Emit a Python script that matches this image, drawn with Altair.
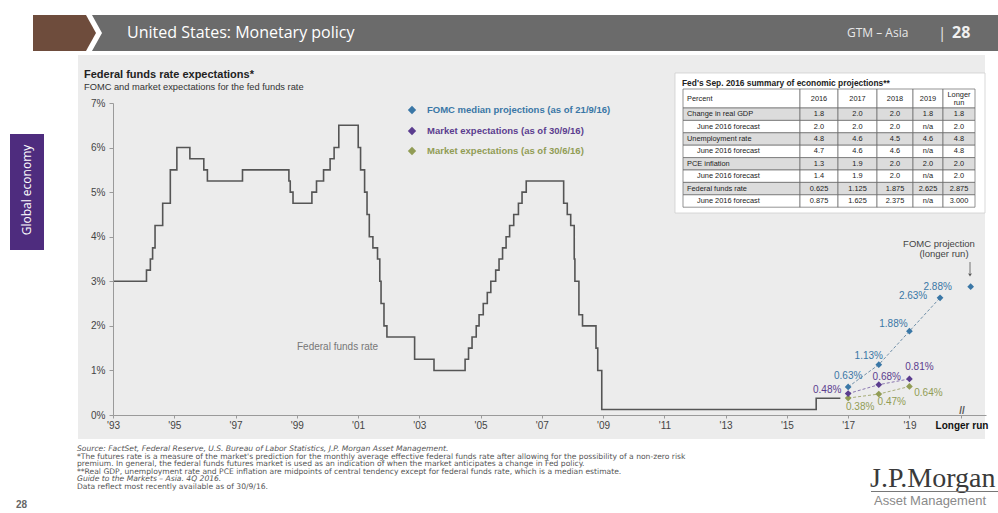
import datetime as dt
import altair as alt
import pandas as pd

# ---------------- data ----------------
ffr_dates = ["1993-01-01", "1994-02-04", "1994-03-22", "1994-04-18", "1994-05-17", "1994-08-16",
             "1994-11-15", "1995-02-01", "1995-07-06", "1995-12-19", "1996-01-31", "1997-03-25",
             "1998-09-29", "1998-10-15", "1998-11-17", "1999-06-30", "1999-08-24", "1999-11-16",
             "2000-02-02", "2000-03-21", "2000-05-16", "2001-01-03", "2001-01-31", "2001-03-20",
             "2001-04-18", "2001-05-15", "2001-06-27", "2001-08-21", "2001-09-17", "2001-10-02",
             "2001-11-06", "2001-12-11", "2002-11-06", "2003-06-25", "2004-06-30", "2004-08-10",
             "2004-09-21", "2004-11-10", "2004-12-14", "2005-02-02", "2005-03-22", "2005-05-03",
             "2005-06-30", "2005-08-09", "2005-09-20", "2005-11-01", "2005-12-13", "2006-01-31",
             "2006-03-28", "2006-05-10", "2006-06-29", "2007-09-18", "2007-10-31", "2007-12-11",
             "2008-01-22", "2008-01-30", "2008-03-18", "2008-04-30", "2008-10-08", "2008-10-29",
             "2008-12-16", "2015-12-16", "2016-09-30"]
ffr_rates = [3.00, 3.25, 3.50, 3.75, 4.25, 4.75,
             5.50, 6.00, 5.75, 5.50, 5.25, 5.50,
             5.25, 5.00, 4.75, 5.00, 5.25, 5.50,
             5.75, 6.00, 6.50, 6.00, 5.50, 5.00,
             4.50, 4.00, 3.75, 3.50, 3.00, 2.50,
             2.00, 1.75, 1.25, 1.00, 1.25, 1.50,
             1.75, 2.00, 2.25, 2.50, 2.75, 3.00,
             3.25, 3.50, 3.75, 4.00, 4.25, 4.50,
             4.75, 5.00, 5.25, 4.75, 4.50, 4.25,
             3.50, 3.00, 2.25, 2.00, 1.50, 1.00,
             0.125, 0.375, 0.375]

proj_years = [2016, 2017, 2018, 2019]
fomc_median = [0.63, 1.13, 1.88, 2.63]
fomc_longer_run = 2.88
mkt_years = [2016, 2017, 2018]
mkt_sep = [0.48, 0.68, 0.81]
mkt_jun = [0.38, 0.47, 0.64]

x_tick_years = [1993, 1995, 1997, 1999, 2001, 2003, 2005, 2007, 2009, 2011, 2013, 2015, 2017, 2019]
y_ticks = [0, 1, 2, 3, 4, 5, 6, 7]

tbl_header = ["Percent", "2016", "2017", "2018", "2019", "Longer run"]
tbl_labels = ["Change in real GDP", "June 2016 forecast", "Unemployment rate", "June 2016 forecast",
              "PCE inflation", "June 2016 forecast", "Federal funds rate", "June 2016 forecast"]
tbl_values = [
    ["1.8", "2.0", "2.0", "1.8", "1.8"],
    ["2.0", "2.0", "2.0", "n/a", "2.0"],
    ["4.8", "4.6", "4.5", "4.6", "4.8"],
    ["4.7", "4.6", "4.6", "n/a", "4.8"],
    ["1.3", "1.9", "2.0", "2.0", "2.0"],
    ["1.4", "1.9", "2.0", "n/a", "2.0"],
    ["0.625", "1.125", "1.875", "2.625", "2.875"],
    ["0.875", "1.625", "2.375", "n/a", "3.000"],
]

footnotes = [
    "Source: FactSet, Federal Reserve, U.S. Bureau of Labor Statistics, J.P. Morgan Asset Management.",
    "*The futures rate is a measure of the market's prediction for the monthly average effective federal funds rate after allowing for the possibility of a non-zero risk",
    "premium. In general, the federal funds futures market is used as an indication of when the market anticipates a change in Fed policy.",
    "**Real GDP, unemployment rate and PCE inflation are midpoints of central tendency except for federal funds rate, which is a median estimate.",
    "Guide to the Markets \u2013 Asia. 4Q 2016.",
    "Data reflect most recently available as of 30/9/16.",
]

# ---------------- layout ----------------
W, H = 998, 513
L, T = 113, 103
PW, PH = 873, 312
X_DOMAIN = [1993, 2021.5]
LONGER_RUN_TICK = 2020.7
LONGER_RUN_POS = 2021.0

FONT = "Liberation Sans"
HFONT = "Open Sans"
BLUE = "#3a77a6"
PURPLE = "#5b3d8f"
GREEN = "#919c55"
LINE = "#555555"


def dec_year(s):
    d = dt.date.fromisoformat(s)
    a = dt.date(d.year, 1, 1)
    b = dt.date(d.year + 1, 1, 1)
    return d.year + (d - a).days / (b - a).days


one = pd.DataFrame({"k": [0]})


def txt(s, x, y, size=9, color="#333", weight="normal", align="left", baseline="middle",
        font=FONT, angle=None, style="normal"):
    kw = dict(text=s, align=align, baseline=baseline, fontSize=size, color=color,
              fontWeight=weight, font=font, fontStyle=style)
    if angle is not None:
        kw["angle"] = angle
    return alt.Chart(one).mark_text(**kw).encode(x=alt.value(x - L), y=alt.value(y - T))


def box(x1, y1, x2, y2, fill, stroke=None, sw=0.0):
    kw = dict(fill=fill)
    if stroke:
        kw["stroke"] = stroke
        kw["strokeWidth"] = sw
    return alt.Chart(one).mark_rect(**kw).encode(
        x=alt.value(x1 - L), x2=alt.value(x2 - L), y=alt.value(y1 - T), y2=alt.value(y2 - T))


def poly(pts, fill):
    xs = [p[0] for p in pts]
    ys = [p[1] for p in pts]
    cx = (min(xs) + max(xs)) / 2
    cy = (min(ys) + max(ys)) / 2
    s = max(max(xs) - min(xs), max(ys) - min(ys)) / 2
    path = "M" + " L".join(f"{(x - cx) / s:.4f},{(y - cy) / s:.4f}" for x, y in pts) + " Z"
    return alt.Chart(one).mark_point(shape=path, size=(2 * s) ** 2, filled=True, fill=fill,
                                     opacity=1, strokeWidth=0).encode(
        x=alt.value(cx - L), y=alt.value(cy - T))


layers = []

# background panel
layers.append(box(78, 55, 985, 439, "#ececec"))

# header
layers.append(poly([(92, 15), (998, 15), (998, 51), (92, 51), (102, 33)], "#6b6b6b"))
layers.append(poly([(33, 15), (86, 15), (96, 33), (86, 51), (33, 51)], "#6e4c3c"))
layers.append(txt("United States: Monetary policy", 127, 33, size=16, color="#ffffff", font=HFONT))
layers.append(txt("GTM \u2013 Asia", 847, 33, size=12, color="#e8e8e8", font=HFONT))
layers.append(txt("|", 938, 33, size=15, color="#e8e8e8", font=HFONT))
layers.append(txt("28", 952, 33, size=16, color="#f0f0f0", font=HFONT, weight="bold"))

# side tab
layers.append(box(10, 134, 44, 250, "#4e2c7e"))
layers.append(txt("Global economy", 27, 190, size=12, color="#ffffff", font=HFONT,
                  align="center", angle=270))

# titles
layers.append(txt("Federal funds rate expectations*", 84, 75, size=11, color="#222", weight="bold"))
layers.append(txt("FOMC and market expectations for the fed funds rate", 84, 87, size=9.3, color="#333"))

# table
layers.append(box(675, 73, 985, 213, "#ffffff", stroke="#cfcfcf", sw=0.8))
layers.append(txt("Fed's Sep. 2016 summary of economic projections**", 682, 83, size=8.4,
                  color="#222", weight="bold"))
col_edges = [683, 800, 838, 877, 913, 943, 975]
hdr_top, hdr_bot, row_h = 89, 108, 12.4
cells = []
texts_left = []
texts_center = []
for ci in range(6):
    cells.append(dict(x1=col_edges[ci] - L, x2=col_edges[ci + 1] - L, y1=hdr_top - T, y2=hdr_bot - T,
                      fill="#ffffff"))
for ri in range(len(tbl_labels)):
    y1 = hdr_bot + ri * row_h
    fill = "#dcdcdc" if ri % 2 == 0 else "#ffffff"
    for ci in range(6):
        cells.append(dict(x1=col_edges[ci] - L, x2=col_edges[ci + 1] - L, y1=y1 - T, y2=y1 + row_h - T,
                          fill=fill))
    indent = 4 if ri % 2 == 0 else 14
    texts_left.append(dict(tx=col_edges[0] + indent - L, ty=y1 + row_h / 2 - T, t=tbl_labels[ri]))
    for ci, v in enumerate(tbl_values[ri]):
        cx = (col_edges[ci + 1] + col_edges[ci + 2]) / 2
        texts_center.append(dict(tx=cx - L, ty=y1 + row_h / 2 - T, t=v))
texts_left.append(dict(tx=col_edges[0] + 4 - L, ty=(hdr_top + hdr_bot) / 2 - T, t=tbl_header[0]))
for ci, h in enumerate(tbl_header[1:]):
    cx = (col_edges[ci + 1] + col_edges[ci + 2]) / 2
    if " " in h and ci == 4:
        a, b = h.split(" ")
        texts_center.append(dict(tx=cx - L, ty=(hdr_top + hdr_bot) / 2 - 4 - T, t=a))
        texts_center.append(dict(tx=cx - L, ty=(hdr_top + hdr_bot) / 2 + 4 - T, t=b))
    else:
        texts_center.append(dict(tx=cx - L, ty=(hdr_top + hdr_bot) / 2 - T, t=h))

layers.append(alt.Chart(pd.DataFrame(cells)).mark_rect(stroke="#666666", strokeWidth=0.7).encode(
    x=alt.X("x1:Q", scale=None), x2="x2:Q",
    y=alt.Y("y1:Q", scale=None), y2="y2:Q",
    fill=alt.Fill("fill:N", scale=None, legend=None)))
layers.append(alt.Chart(pd.DataFrame(texts_left)).mark_text(
    align="left", baseline="middle", fontSize=7.4, font=FONT, color="#222").encode(
    x=alt.X("tx:Q", scale=None), y=alt.Y("ty:Q", scale=None), text="t:N"))
layers.append(alt.Chart(pd.DataFrame(texts_center)).mark_text(
    align="center", baseline="middle", fontSize=7.4, font=FONT, color="#222").encode(
    x=alt.X("tx:Q", scale=None), y=alt.Y("ty:Q", scale=None), text="t:N"))

# legend
legend_items = [("FOMC median projections (as of 21/9/16)", BLUE, 110),
                ("Market expectations (as of 30/9/16)", PURPLE, 131),
                ("Market expectations (as of 30/6/16)", GREEN, 151)]
for lab, col, yy in legend_items:
    layers.append(alt.Chart(one).mark_point(shape="diamond", filled=True, color=col, opacity=1,
                                            size=70).encode(x=alt.value(412 - L), y=alt.value(yy - T)))
    layers.append(txt(lab, 427, yy, size=9.5, color=col, weight="bold"))

# main data
x_scale = alt.Scale(domain=X_DOMAIN, nice=False, zero=False)
y_scale = alt.Scale(domain=[0, 7], nice=False, zero=True)
x_enc = alt.X("yr:Q", scale=x_scale, axis=alt.Axis(
    values=x_tick_years + [LONGER_RUN_TICK],
    labelExpr="datum.value > 2020 ? 'Longer run' : \"'\" + substring(toString(datum.value), 2, 4)",
    title=None, grid=False, domainColor="#9a9a9a", tickColor="#9a9a9a", tickSize=3, zindex=2,
    labelFontSize=10, labelFont=FONT, labelPadding=2, labelOverlap=False, labelFlush=False,
    labelBound=False,
    labelColor={"condition": {"test": "datum.value > 2020", "value": "#111111"}, "value": "#444444"},
    labelFontWeight={"condition": {"test": "datum.value > 2020", "value": "bold"}, "value": "normal"}))
y_enc = alt.Y("rate:Q", scale=y_scale, axis=alt.Axis(
    values=y_ticks, labelExpr="datum.value + '%'", title=None, grid=False, zindex=2,
    domainColor="#9a9a9a", tickColor="#9a9a9a", tickSize=4, labelFontSize=10, labelFont=FONT,
    labelColor="#444444", labelPadding=4))

ffr_df = pd.DataFrame({"yr": [dec_year(s) for s in ffr_dates], "rate": ffr_rates})
layers.append(alt.Chart(ffr_df).mark_line(interpolate="step-after", color=LINE, strokeWidth=1.6).encode(
    x=x_enc, y=y_enc))
layers.append(txt("Federal funds rate", 297, 347, size=10, color="#777777"))

fomc_df = pd.DataFrame({"yr": [y + 1 for y in proj_years], "rate": fomc_median})
fomc_df["lab"] = [f"{v:.2f}%" for v in fomc_median]
lr_df = pd.DataFrame({"yr": [LONGER_RUN_POS], "rate": [fomc_longer_run]})
lr_df["lab"] = [f"{fomc_longer_run:.2f}%"]
sep_df = pd.DataFrame({"yr": [y + 1 for y in mkt_years], "rate": mkt_sep})
sep_df["lab"] = [f"{v:.2f}%" for v in mkt_sep]
jun_df = pd.DataFrame({"yr": [y + 1 for y in mkt_years], "rate": mkt_jun})
jun_df["lab"] = [f"{v:.2f}%" for v in mkt_jun]

for df, col in [(fomc_df, "#6f8fa8"), (jun_df, "#a8ad78"), (sep_df, "#8a76b0")]:
    layers.append(alt.Chart(df).mark_line(color=col, strokeWidth=1, strokeDash=[3, 2]).encode(
        x="yr:Q", y="rate:Q"))
for df, col in [(fomc_df, BLUE), (lr_df, BLUE), (jun_df, GREEN), (sep_df, PURPLE)]:
    layers.append(alt.Chart(df).mark_point(shape="diamond", filled=True, color=col, opacity=1,
                                           size=45).encode(x="yr:Q", y="rate:Q"))

label_specs = [
    (fomc_df, BLUE, [(0, -11), (-10, -9), (-16, -7), (-27, -2)]),
    (lr_df, BLUE, [(-33, 0)]),
    (sep_df, PURPLE, [(-21, -4), (8, -8), (10, -12)]),
    (jun_df, GREEN, [(12, 9), (13, 8), (19, 7)]),
]
for df, col, offs in label_specs:
    for i, (ddx, ddy) in enumerate(offs):
        layers.append(alt.Chart(df.iloc[[i]]).mark_text(
            dx=ddx, dy=ddy, fontSize=10, font=FONT, color=col, align="center", baseline="middle").encode(
            x="yr:Q", y="rate:Q", text="lab:N"))

# longer-run annotation
layers.append(txt("FOMC projection", 939, 244, size=9.5, color="#444", align="center"))
layers.append(txt("(longer run)", 944, 254, size=9.5, color="#444", align="center"))
layers.append(alt.Chart(one).mark_rule(color="#555", strokeWidth=0.8).encode(
    x=alt.value(970 - L), y=alt.value(262 - T), y2=alt.value(273 - T)))
layers.append(alt.Chart(one).mark_point(shape="triangle-down", filled=True, color="#555", opacity=1,
                                        size=14).encode(x=alt.value(970 - L), y=alt.value(275 - T)))
layers.append(txt("//", 962, 411, size=10, color="#555", align="center", weight="bold"))

# footnotes
for i, line in enumerate(footnotes):
    style = "italic" if i in (0, 4) else "normal"
    layers.append(txt(line, 77, 449 + i * 7.6, size=7.6, color="#555", style=style, font="DejaVu Sans"))

layers.append(txt("28", 16, 505, size=10, color="#666", weight="bold"))
layers.append(txt("J.P.Morgan", 870, 479, size=28, color="#3a3a3a", font="Liberation Serif"))
layers.append(box(871, 491, 998, 492, "#777777"))
layers.append(txt("Asset Management", 874, 501, size=13, color="#8a8a8a", font=FONT))

chart = alt.layer(*layers).properties(
    width=PW, height=PH, autosize="none",
    padding={"left": L, "top": T, "right": W - L - PW, "bottom": H - T - PH},
    background="white",
).configure_view(stroke=None)

chart.save("out.html", embed_options={"renderer": "svg", "actions": False})
